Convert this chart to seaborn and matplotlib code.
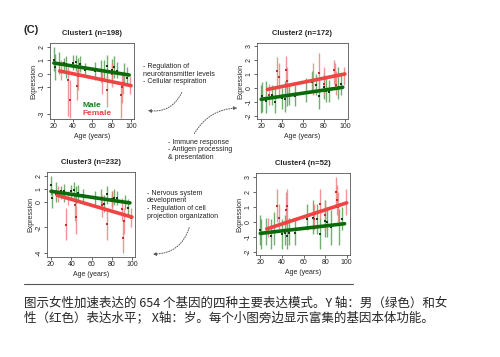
import numpy as np
import pandas as pd
import matplotlib
matplotlib.use('Agg')
import matplotlib.pyplot as plt
import seaborn as sns

# 数据：各年龄点的平均表达量及上下范围
male_age = [20, 21, 25, 30, 33, 40, 43, 45, 47, 52, 63, 69, 72, 75, 80, 82, 85, 93, 96]
female_age = [27, 35, 37, 44, 45, 70, 75, 80, 90, 91, 92, 99]

titles = ['Cluster1 (n=198)', 'Cluster2 (n=172)', 'Cluster3 (n=232)', 'Cluster4 (n=52)']

male_mean = [
    [1.0, 0.5, 0.8, 0.8, 0.7, 0.8, 0.9, 0.5, 0.7, 0.3, 0.2, 0.3, 0.2, 0.6, 0.3, 0.5, 0.2, 0.0, -0.3],
    [-0.8, -0.6, -0.9, -0.5, -1.0, -0.7, -0.8, -0.6, -0.5, -0.6, -0.3, 0.4, 0.2, -0.6, 0.1, -0.2, -0.3, 0.0, 0.3],
    [1.3, 0.3, 0.6, 0.8, 0.8, 0.8, 0.9, 0.5, 0.7, 0.5, 0.3, 0.3, -0.2, 0.6, 0.2, 0.3, 0.3, -0.1, -0.5],
    [-0.5, -0.8, -0.7, -0.9, -0.6, -0.8, -0.7, -0.9, -0.7, -0.7, 0.2, 0.3, 0.2, -0.8, 0.1, 0.0, -0.3, -0.2, 0.2],
]
male_lo = [
    [0.2, -0.5, 0.0, 0.2, -0.3, 0.3, 0.2, 0.0, 0.1, -0.2, -0.5, -0.6, -0.5, -0.3, -0.4, -0.3, -0.3, -0.8, -0.8],
    [-1.8, -1.7, -1.8, -1.2, -1.8, -1.5, -1.7, -1.3, -1.2, -1.3, -1.0, -0.3, -0.5, -1.5, -0.8, -1.0, -1.0, -0.8, -0.5],
    [0.5, -0.5, 0.0, 0.2, 0.0, 0.2, 0.3, -0.2, 0.0, 0.0, -0.3, -0.4, -0.8, -0.2, -0.4, -0.3, -0.3, -0.6, -1.0],
    [-1.5, -1.8, -1.5, -1.8, -1.5, -1.8, -1.5, -1.8, -1.5, -1.5, -0.5, -0.8, -0.8, -1.8, -1.0, -1.0, -1.5, -1.5, -0.5],
]
male_hi = [
    [2.0, 1.5, 1.6, 1.2, 1.3, 1.4, 1.4, 1.2, 1.3, 0.8, 0.9, 1.0, 1.0, 1.4, 1.1, 1.3, 0.9, 0.8, 0.5],
    [0.2, 0.4, 0.5, 0.2, 0.0, 0.0, 0.5, 0.2, 0.3, 0.2, 0.7, 1.2, 1.0, 0.5, 1.0, 0.8, 0.6, 1.5, 0.9],
    [2.0, 1.0, 1.5, 1.2, 1.4, 1.3, 1.5, 1.2, 1.3, 1.0, 0.8, 1.0, 0.5, 1.2, 0.8, 1.0, 0.8, 0.5, 0.2],
    [0.5, 0.2, 0.3, 0.2, 0.7, 0.2, 0.5, 0.2, 0.3, 0.3, 1.2, 1.5, 1.2, 0.3, 1.5, 1.0, 0.8, 0.9, 1.0],
]
female_mean = [
    [0.2, -0.5, -2.0, -0.9, -0.2, -0.5, -1.2, 0.0, -1.6, -1.0, -0.7, -0.9],
    [-0.5, 1.2, 0.8, 1.3, 0.5, 0.5, 1.1, 0.3, 1.3, 0.9, 0.2, 0.9],
    [0.6, -1.8, 0.3, -0.3, -1.2, -0.3, -1.7, 0.1, -0.6, -2.8, -1.5, -1.3],
    [-0.4, 1.1, 0.3, 0.8, 1.1, 0.2, 1.2, 0.5, 2.0, 1.5, 1.0, 1.3],
]
female_lo = [
    [-0.5, -3.2, -3.3, -2.0, -1.2, -1.5, -2.5, -1.0, -3.3, -2.2, -1.5, -1.5],
    [-1.2, 0.0, -0.5, 0.0, -0.5, -0.5, 0.0, -0.5, 0.3, 0.0, -0.5, 0.2],
    [0.0, -3.0, -0.3, -1.5, -2.5, -1.2, -3.0, -0.6, -1.5, -4.0, -2.5, -2.0],
    [-1.0, 0.0, -0.5, -0.2, 0.0, -0.5, 0.2, -0.5, 1.0, 0.5, 0.0, 0.5],
]
female_hi = [
    [1.0, 0.5, -0.5, 0.3, 0.6, 0.3, -0.2, 0.8, -0.6, 0.0, 0.2, -0.2],
    [0.3, 2.2, 1.8, 2.3, 1.5, 1.8, 2.5, 1.5, 2.0, 1.8, 1.2, 1.5],
    [1.2, -0.5, 0.8, 0.7, -0.3, 0.5, -0.5, 0.8, 0.3, -1.5, -0.5, -0.5],
    [0.3, 2.2, 1.2, 2.0, 2.2, 1.2, 2.2, 1.5, 3.0, 2.5, 2.0, 2.2],
]

# 回归线端点
male_fit_age = [20, 98]
female_fit_age = [26, 100]
male_fit = [[0.8, -0.1], [-0.8, 0.05], [0.8, -0.1], [-0.75, -0.1]]
female_fit = [[0.2, -0.9], [-0.1, 1.0], [0.5, -1.2], [-0.45, 1.3]]

y_limits = [(-3.4, 2.3), (-2.2, 3.2), (-4.3, 2.3), (-2.2, 3.3)]
y_ticks = [[-3, -1, 0, 1, 2], [-2, -1, 0, 1, 2, 3], [-4, -2, 0, 1, 2], [-2, -1, 0, 1, 2, 3]]

annot_go = [
    '- Regulation of\nneurotransmitter levels\n- Cellular respiration',
    '- Immune response\n- Antigen processing\n& presentation',
    '- Nervous system\ndevelopment\n- Regulation of cell\nprojection organization',
]

caption = ['图示女性加速表达的 654 个基因的四种主要表达模式。Y 轴：男（绿色）和女',
           '性（红色）表达水平； X轴：岁。每个小图旁边显示富集的基因本体功能。']

sns.set_theme(style='ticks')
plt.rcParams['font.family'] = ['Liberation Sans', 'Noto Sans CJK SC', 'DejaVu Sans']

W, H = 500, 357
fig = plt.figure(figsize=(5, 3.57), dpi=100)
fig.patch.set_facecolor('white')

def fx(x):
    return x / W

def fy(y):
    return 1 - y / H

# 各子图位置（像素：左, 上, 右, 下）
boxes = [(50, 43, 134, 119), (257, 43, 348, 119), (47, 172, 135, 257), (256, 173, 350, 255)]

green = '#1f7a1f'
green_dark = '#0b6b0b'
red = '#ef4444'

for i, (l, t, r, b) in enumerate(boxes):
    ax = fig.add_axes([fx(l), fy(b), fx(r - l), (b - t) / H])
    ax.set_facecolor('white')
    dm = pd.DataFrame({'age': male_age, 'mean': male_mean[i], 'lo': male_lo[i], 'hi': male_hi[i]})
    df = pd.DataFrame({'age': female_age, 'mean': female_mean[i], 'lo': female_lo[i], 'hi': female_hi[i]})
    ax.vlines(dm['age'], dm['lo'], dm['hi'], color='#4f9a4f', lw=1.0, alpha=0.8, zorder=1)
    ax.vlines(df['age'], df['lo'], df['hi'], color='#f07a7a', lw=1.0, alpha=0.8, zorder=1)
    sns.scatterplot(data=dm, x='age', y='mean', ax=ax, color='#1a3a1a', s=4, marker='s', linewidth=0, zorder=3)
    sns.scatterplot(data=df, x='age', y='mean', ax=ax, color='#c03030', s=4, marker='s', linewidth=0, zorder=3)
    sns.lineplot(x=female_fit_age, y=female_fit[i], ax=ax, color=red, lw=2.6, zorder=4)
    sns.lineplot(x=male_fit_age, y=male_fit[i], ax=ax, color=green_dark, lw=2.6, zorder=5)
    ax.set_xlim(16, 103)
    ax.set_ylim(*y_limits[i])
    ax.set_xticks([20, 40, 60, 80, 100])
    ax.set_yticks(y_ticks[i])
    ax.set_yticklabels([str(v) for v in y_ticks[i]], rotation=90, va='center')
    ax.tick_params(labelsize=5, length=2, width=0.5, pad=1)
    for sp in ax.spines.values():
        sp.set_linewidth(0.6)
        sp.set_color('#555555')
    ax.set_xlabel('Age (years)', fontsize=5, labelpad=2)
    ax.set_ylabel('Expression', fontsize=5, labelpad=1)
    ax.set_title(titles[i], fontsize=5.5, fontweight='bold', pad=6)
    if i == 0:
        ax.text(50, -2.4, 'Male', color=green, fontsize=6, fontweight='bold', ha='left', va='center')
        ax.text(50, -3.0, 'Female', color=red, fontsize=6, fontweight='bold', ha='left', va='center')

fig.text(fx(24), fy(30), '(C)', fontsize=8, fontweight='bold', ha='left', va='center')

# GO 注释文字
fig.text(fx(143), fy(63), annot_go[0], fontsize=5, ha='left', va='top', linespacing=1.1, color='#222222')
fig.text(fx(168), fy(139), annot_go[1], fontsize=5, ha='left', va='top', linespacing=1.1, color='#222222')
fig.text(fx(147), fy(190), annot_go[2], fontsize=5, ha='left', va='top', linespacing=1.1, color='#222222')

arrow_kw = dict(arrowstyle='-|>', linestyle=(0, (1, 1.5)), lw=0.7, color='#555555', mutation_scale=5)
fig.add_artist(matplotlib.patches.FancyArrowPatch((fx(183), fy(90)), (fx(145), fy(110)), transform=fig.transFigure,
                                                  connectionstyle='arc3,rad=-0.4', **arrow_kw))
fig.add_artist(matplotlib.patches.FancyArrowPatch((fx(193), fy(136)), (fx(240), fy(108)), transform=fig.transFigure,
                                                  connectionstyle='arc3,rad=-0.3', **arrow_kw))
fig.add_artist(matplotlib.patches.FancyArrowPatch((fx(190), fy(225)), (fx(150), fy(254)), transform=fig.transFigure,
                                                  connectionstyle='arc3,rad=-0.4', **arrow_kw))

# 分隔线和说明文字
fig.add_artist(matplotlib.lines.Line2D([fx(24), fx(353)], [fy(284), fy(284)], color='#555555', lw=0.8))
fig.text(fx(24), fy(303), caption[0], fontsize=9, ha='left', va='center', family=['Noto Sans CJK SC', 'DejaVu Sans'])
fig.text(fx(24), fy(318), caption[1], fontsize=9, ha='left', va='center', family=['Noto Sans CJK SC', 'DejaVu Sans'])

fig.savefig('out.png', dpi=100, facecolor='white')
